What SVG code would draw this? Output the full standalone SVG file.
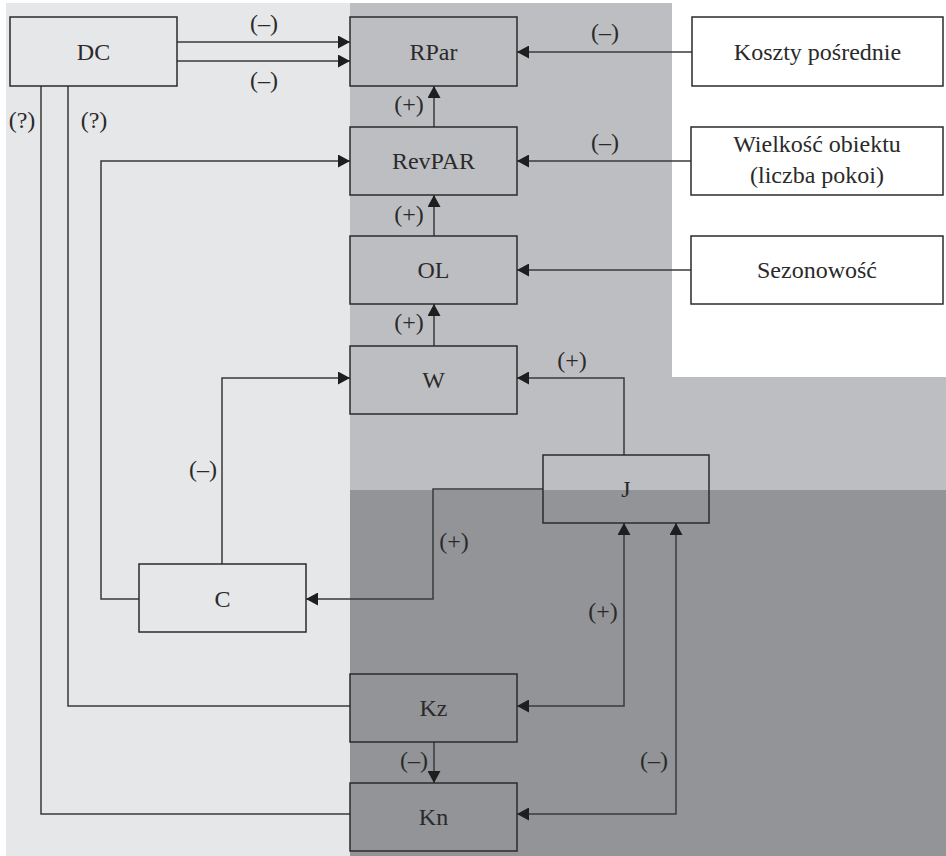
<svg xmlns="http://www.w3.org/2000/svg" width="946" height="856" viewBox="0 0 946 856">
<style>
.bg-light{fill:#e6e7e9}
.bg-mid{fill:#bdbec2}
.bg-dark{fill:#939498}
.box{fill:none;stroke:#2b2b2b;stroke-width:1.5}
.wbox{fill:#ffffff;stroke:#2b2b2b;stroke-width:1.5}
.t{font-family:"Liberation Serif","Times New Roman",serif;font-size:24px;fill:#2a2a2a;text-anchor:middle}
.c{fill:none;stroke:#3a3a3a;stroke-width:1.5}
</style>
<defs>
<marker id="arr" viewBox="0 0 12 13" refX="12" refY="6.5" markerWidth="12" markerHeight="13" markerUnits="userSpaceOnUse" orient="auto-start-reverse">
<path d="M0,0 L12,6.5 L0,13 Z" fill="#1e1e1e"/>
</marker>
</defs>
<rect x="0" y="0" width="946" height="856" fill="#ffffff"/>
<rect class="bg-light" x="6" y="3" width="344" height="853"/>
<path class="bg-mid" d="M350,3 H672 V377 H946 V490 H350 Z"/>
<rect class="bg-dark" x="350" y="490" width="596" height="366"/>

<g id="connectors">
<path class="c" d="M177,42 H350" marker-end="url(#arr)"/>
<path class="c" d="M177,61 H350" marker-end="url(#arr)"/>
<path class="c" d="M692,52 H517" marker-end="url(#arr)"/>
<path class="c" d="M434,127 V86" marker-end="url(#arr)"/>
<path class="c" d="M691,161 H517" marker-end="url(#arr)"/>
<path class="c" d="M434,236 V195" marker-end="url(#arr)"/>
<path class="c" d="M691,270 H517" marker-end="url(#arr)"/>
<path class="c" d="M434,346 V304" marker-end="url(#arr)"/>
<path class="c" d="M624,455 V378 H517" marker-end="url(#arr)"/>
<path class="c" d="M222,564 V378 H350" marker-end="url(#arr)"/>
<path class="c" d="M543,489 H433 V599 H306" marker-end="url(#arr)"/>
<path class="c" d="M139,599 H101 V161 H350" marker-end="url(#arr)"/>
<path class="c" d="M68,86 V706 H350"/>
<path class="c" d="M41,86 V814 H350"/>
<path class="c" d="M517,706 H624 V523" marker-start="url(#arr)" marker-end="url(#arr)"/>
<path class="c" d="M517,814 H676 V523" marker-start="url(#arr)" marker-end="url(#arr)"/>
<path class="c" d="M434,742 V783" marker-end="url(#arr)"/>
<text class="t" x="264" y="31">(–)</text>
<text class="t" x="264" y="88">(–)</text>
<text class="t" x="22" y="128">(?)</text>
<text class="t" x="94" y="128">(?)</text>
<text class="t" x="409" y="112">(+)</text>
<text class="t" x="605" y="40">(–)</text>
<text class="t" x="605" y="150">(–)</text>
<text class="t" x="409" y="222">(+)</text>
<text class="t" x="409" y="330">(+)</text>
<text class="t" x="572" y="368">(+)</text>
<text class="t" x="203" y="477">(–)</text>
<text class="t" x="454" y="549">(+)</text>
<text class="t" x="603" y="619">(+)</text>
<text class="t" x="414" y="768">(–)</text>
<text class="t" x="654" y="768">(–)</text>
</g>

<g id="node-DC"><rect class="box" x="10" y="17" width="167" height="69"/><text class="t" x="93.5" y="60">DC</text></g>
<g id="node-RPar"><rect class="box" x="350" y="17" width="167" height="69"/><text class="t" x="433.5" y="60">RPar</text></g>
<g id="node-RevPAR"><rect class="box" x="350" y="127" width="167" height="68"/><text class="t" x="433.5" y="169">RevPAR</text></g>
<g id="node-OL"><rect class="box" x="350" y="236" width="167" height="68"/><text class="t" x="433.5" y="278">OL</text></g>
<g id="node-W"><rect class="box" x="350" y="346" width="167" height="68"/><text class="t" x="433.5" y="388">W</text></g>
<g id="node-J"><rect class="box" x="543" y="455" width="166" height="68"/><text class="t" x="626" y="497">J</text></g>
<g id="node-C"><rect class="box" x="139" y="564" width="167" height="68"/><text class="t" x="222.5" y="607">C</text></g>
<g id="node-Kz"><rect class="box" x="350" y="674" width="167" height="68"/><text class="t" x="433.5" y="716">Kz</text></g>
<g id="node-Kn"><rect class="box" x="350" y="783" width="167" height="68"/><text class="t" x="433.5" y="825">Kn</text></g>
<g id="node-Koszty"><rect class="wbox" x="692" y="17" width="251" height="69"/><text class="t" x="817.5" y="60">Koszty pośrednie</text></g>
<g id="node-Wielkosc"><rect class="wbox" x="691" y="127" width="252" height="68"/><text class="t" x="817" y="152">Wielkość obiektu</text><text class="t" x="817" y="183">(liczba pokoi)</text></g>
<g id="node-Sezonowosc"><rect class="wbox" x="691" y="236" width="252" height="68"/><text class="t" x="817" y="278">Sezonowość</text></g>
</svg>
